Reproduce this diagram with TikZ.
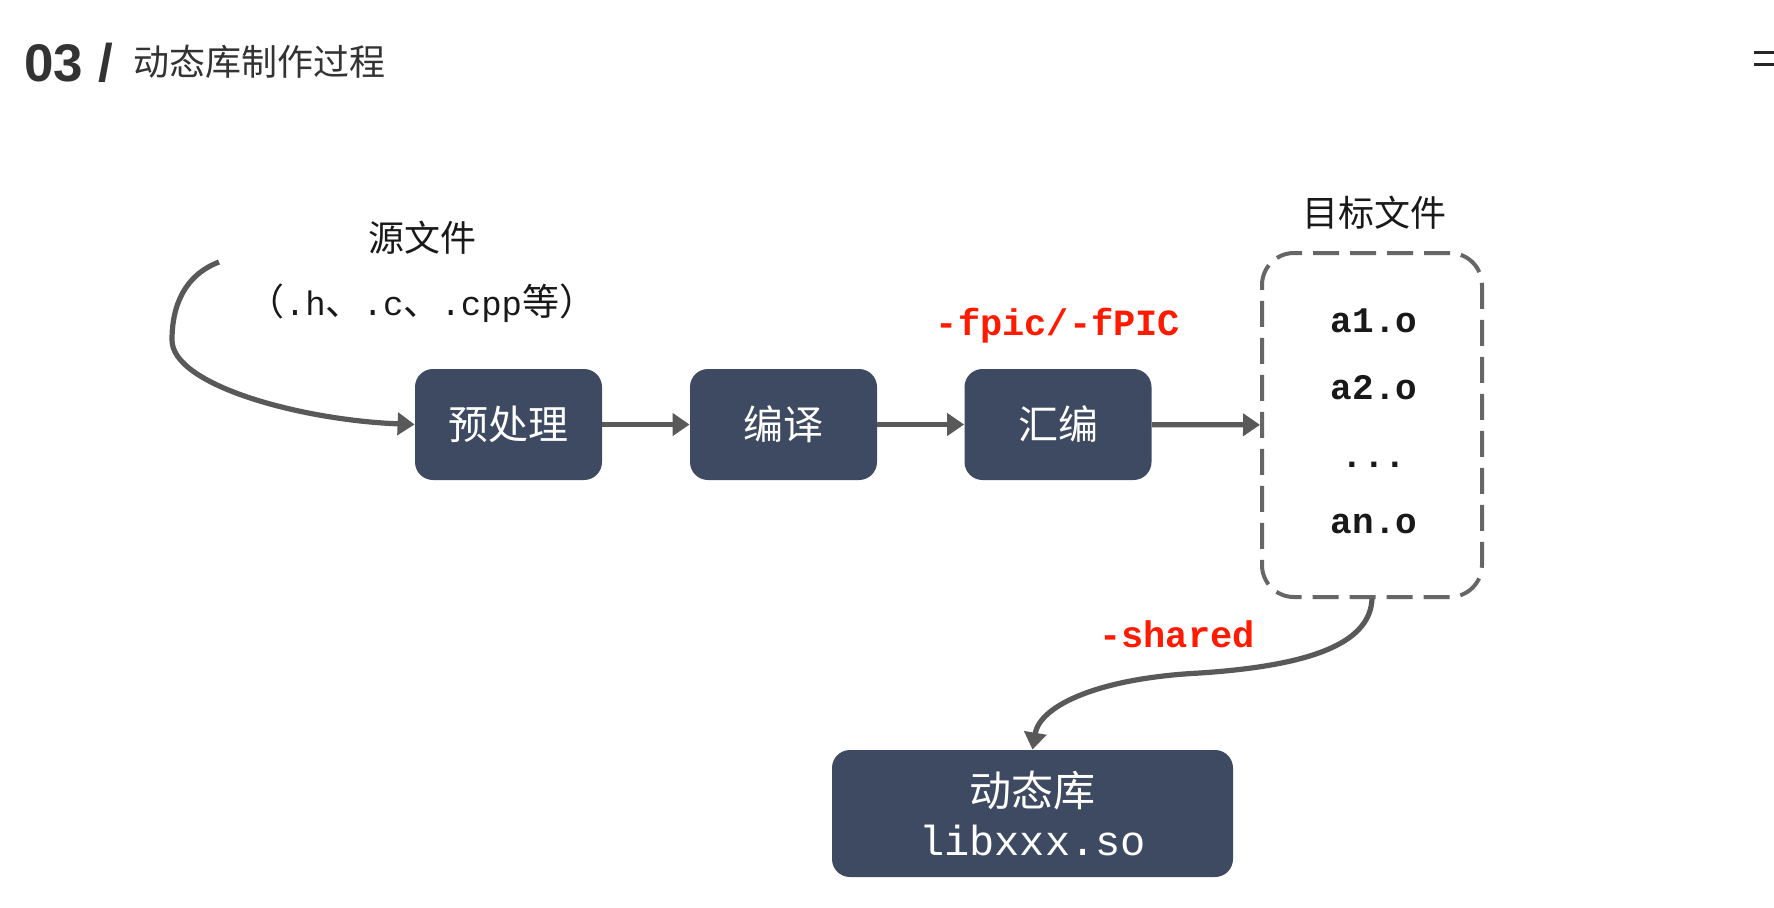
\documentclass[tikz,border=0pt]{standalone}
\usepackage{fontspec}
\setmainfont{Noto Sans CJK SC}
\setsansfont{Liberation Sans}
\setmonofont{Liberation Mono}
\usepackage{tikz}
\usetikzlibrary{shapes,arrows,arrows.meta,positioning,calc}

\definecolor{boxblue}{HTML}{3E4A61}
\definecolor{arrowgray}{HTML}{595959}
\definecolor{dashgray}{HTML}{666666}
\definecolor{flagred}{HTML}{FF1A00}
\definecolor{titlegray}{HTML}{333333}

\begin{document}
\begin{tikzpicture}[x=0.5pt, y=-0.5pt,
    every node/.style={inner sep=0pt, text=black!90},
    stage/.style={fill=boxblue, rounded corners=9pt, minimum width=93.5pt,
        minimum height=55.5pt, text=white, font=\fontsize{20}{24}\selectfont},
    flow/.style={draw=arrowgray, line width=2.6pt, -{Triangle[length=8.5pt,width=11pt]}},
    objfile/.style={font=\ttfamily\bfseries\fontsize{18}{22}\selectfont},
    flag/.style={text=flagred, font=\ttfamily\bfseries\fontsize{18.5}{20}\selectfont},
    caption/.style={font=\fontsize{18}{22}\selectfont}]

    % 1. Latar dan batas gambar
    \fill[white] (0,0) rectangle (1774,907);
    \useasboundingbox (0,0) rectangle (1774,907);

    % 2. Judul
    \node[anchor=base west, text=titlegray, font=\sffamily\bfseries\fontsize{26.5}{30}\selectfont] (nomor) at (24,81) {03 /};
    \node[anchor=west, text=titlegray, font=\fontsize{18}{20}\selectfont] (judul) at (133,62) {动态库制作过程};
    \draw[line width=1.5pt, black!85] (1754,52) -- (1774,52) (1754,64) -- (1774,64);

    % 3. Tahap proses
    \node[stage] (pre) at (508.5,424.5) {预处理};
    \node[stage] (compile) at (783.5,424.5) {编译};
    \node[stage] (asm) at (1058,424.5) {汇编};

    % 4. Berkas sumber
    \node[caption] (src) at (422,238) {源文件};
    \node[caption, font=\fontsize{18.5}{22}\selectfont] (srcext) at (422,303) {（{\ttfamily\fontsize{17}{20}\selectfont .h}、{\ttfamily\fontsize{17}{20}\selectfont .c}、{\ttfamily\fontsize{17}{20}\selectfont .cpp}等）};
    \coordinate (srcstart) at (219,262);

    % 5. Berkas objek
    \node[caption] (objtitle) at (1374,213) {目标文件};
    \node[draw=dashgray, line width=2pt, dash pattern=on 13pt off 5.5pt, rounded corners=16pt,
        minimum width=110pt, minimum height=172pt] (objs) at (1372,425) {};
    \node[objfile] (a1) at (1374,321) {a1.o};
    \node[objfile] (a2) at (1374,388) {a2.o};
    \node[objfile] (dots) at (1374,465) {...};
    \node[objfile] (an) at (1374,524) {an.o};

    % 6. Pustaka dinamis
    \node[stage, minimum width=200.5pt, minimum height=63.5pt, align=center,
        font=\fontsize{21}{24.5}\selectfont] (lib) at (1032.5,813.5) {动态库\\{\ttfamily libxxx.so}};

    % 7. Label opsi
    \node[flag] (fpic) at (1058,326) {-fpic/-fPIC};
    \node[flag] (shared) at (1177,634) {-shared};

    % 8. Panah
    \draw[flow] (srcstart) .. controls (185,275) and (172,305) .. (172,340)
        .. controls (172,385) and (300,420) .. (pre.west);
    \draw[flow] (pre) -- (compile);
    \draw[flow] (compile) -- (asm);
    \draw[flow] (asm) -- (objs);
    \draw[flow] (objs.south) .. controls (1370,640) and (1320,665) .. (1200,673)
        .. controls (1100,678) and (1040,705) .. (lib.north);

\end{tikzpicture}
\end{document}
